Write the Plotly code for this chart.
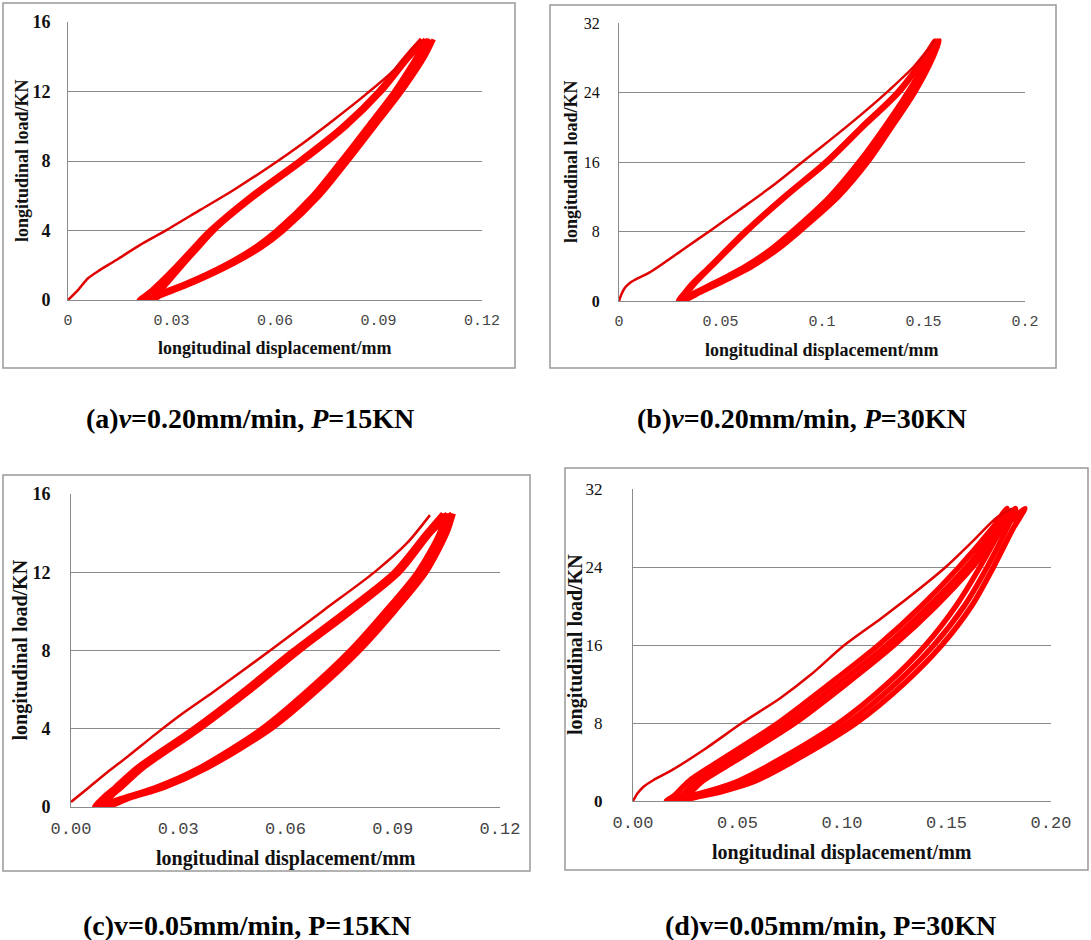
import plotly.graph_objects as go

W, H = 1091, 940

# ---------------- data ----------------
# (a) v=0.20 mm/min, P=15 kN
a_load_x = [0, 0.0029, 0.0058, 0.0092, 0.0140, 0.0208, 0.0285, 0.0382, 0.0479, 0.0576, 0.0673, 0.0769, 0.0866, 0.0944, 0.1002, 0.1023]
a_load_y = [0, 0.57, 1.25, 1.72, 2.30, 3.16, 4.02, 5.17, 6.32, 7.57, 8.91, 10.35, 11.88, 13.22, 14.56, 14.98]
a_cyc1_x = [0.1040, 0.1010, 0.0945, 0.0868, 0.0790, 0.0708, 0.0604, 0.0538, 0.0452, 0.0345, 0.0280, 0.0235, 0.0205,
            0.0238, 0.0265, 0.0315, 0.0362, 0.0410, 0.0530, 0.0668, 0.0795, 0.0898, 0.0980, 0.1025]
a_cyc1_y = [15.0, 14.0, 12.0, 10.0, 8.0, 6.0, 4.0, 3.0, 2.0, 1.0, 0.5, 0.2, 0.0,
            0.5, 1.0, 2.0, 3.0, 4.0, 6.0, 8.0, 10.0, 12.0, 14.0, 15.0]
a_cyc2_x = [0.1050, 0.1022, 0.0956, 0.0879, 0.0801, 0.0719, 0.0615, 0.0549, 0.0462, 0.0355, 0.0291, 0.0250, 0.0228,
            0.0253, 0.0278, 0.0324, 0.0370, 0.0417, 0.0538, 0.0676, 0.0802, 0.0904, 0.0986, 0.1035]
a_cyc2_y = [15.0, 14.0, 12.0, 10.0, 8.0, 6.0, 4.0, 3.0, 2.0, 1.0, 0.5, 0.2, 0.0,
            0.5, 1.0, 2.0, 3.0, 4.0, 6.0, 8.0, 10.0, 12.0, 14.0, 15.0]
a_cyc3_x = [0.1060, 0.1035, 0.0968, 0.0890, 0.0812, 0.0730, 0.0626, 0.0560, 0.0472, 0.0365, 0.0302, 0.0265, 0.0250,
            0.0268, 0.0290, 0.0333, 0.0378, 0.0424, 0.0545, 0.0683, 0.0808, 0.0910, 0.0992, 0.1045]
a_cyc3_y = [15.0, 14.0, 12.0, 10.0, 8.0, 6.0, 4.0, 3.0, 2.0, 1.0, 0.5, 0.2, 0.0,
            0.5, 1.0, 2.0, 3.0, 4.0, 6.0, 8.0, 10.0, 12.0, 14.0, 15.0]

# (b) v=0.20 mm/min, P=30 kN
b_load_x = [0, 0.0012, 0.0029, 0.0055, 0.0089, 0.0149, 0.0321, 0.0458, 0.0596, 0.0750, 0.0905, 0.1059, 0.1197, 0.1334, 0.1454, 0.1557]
b_load_y = [0, 0.77, 1.53, 2.11, 2.57, 3.26, 6.02, 8.24, 10.54, 13.14, 16.02, 18.89, 21.54, 24.34, 27.02, 30.0]
b_cyc1_x = [0.1555, 0.1520, 0.1420, 0.1305, 0.1180, 0.1035, 0.0850, 0.0748, 0.0620, 0.0542, 0.0458, 0.0372, 0.0290,
            0.0322, 0.0358, 0.0445, 0.0618, 0.0810, 0.1015, 0.1190, 0.1368, 0.1500, 0.1555]
b_cyc1_y = [30, 28, 24, 20, 16, 12, 8, 6, 4, 3, 2, 1, 0,
            1, 2, 4, 8, 12, 16, 20, 24, 28, 30]
b_cyc2_x = [0.1568, 0.1534, 0.1439, 0.1325, 0.1204, 0.1059, 0.0871, 0.0768, 0.0640, 0.0561, 0.0476, 0.0388, 0.0302,
            0.0332, 0.0367, 0.0452, 0.0625, 0.0817, 0.1022, 0.1197, 0.1375, 0.1506, 0.1568]
b_cyc2_y = [30, 28, 24, 20, 16, 12, 8, 6, 4, 3, 2, 1, 0,
            1, 2, 4, 8, 12, 16, 20, 24, 28, 30]
b_cyc3_x = [0.1580, 0.1548, 0.1458, 0.1345, 0.1228, 0.1083, 0.0892, 0.0788, 0.0660, 0.0580, 0.0494, 0.0405, 0.0315,
            0.0342, 0.0376, 0.0460, 0.0632, 0.0824, 0.1030, 0.1204, 0.1382, 0.1512, 0.1580]
b_cyc3_y = [30, 28, 24, 20, 16, 12, 8, 6, 4, 3, 2, 1, 0,
            1, 2, 4, 8, 12, 16, 20, 24, 28, 30]

# (c) v=0.05 mm/min, P=15 kN
c_load_x = [0, 0.0050, 0.0100, 0.0160, 0.0235, 0.0310, 0.0400, 0.0557, 0.0706, 0.0850, 0.0939, 0.1004]
c_load_y = [0.26, 1.0, 1.75, 2.6, 3.7, 4.75, 5.9, 8.0, 10.05, 12.02, 13.47, 14.92]
c_cyc1_x = [0.1045, 0.1030, 0.0968, 0.0878, 0.0780, 0.0664, 0.0533, 0.0358, 0.0235, 0.0140, 0.0065,
            0.0090, 0.0122, 0.0183, 0.0342, 0.0486, 0.0621, 0.0766, 0.0903, 0.0993, 0.1040]
c_cyc1_y = [15, 14, 12, 10, 8, 6, 4, 2, 1, 0.45, 0,
            0.5, 1, 2, 4, 6, 8, 10, 12, 14, 15]
c_cyc2_x = [0.1058, 0.1041, 0.0981, 0.0892, 0.0794, 0.0678, 0.0547, 0.0370, 0.0248, 0.0152, 0.0082,
            0.0101, 0.0132, 0.0193, 0.0352, 0.0496, 0.0631, 0.0776, 0.0912, 0.1000, 0.1052]
c_cyc2_y = [15, 14, 12, 10, 8, 6, 4, 2, 1, 0.45, 0,
            0.5, 1, 2, 4, 6, 8, 10, 12, 14, 15]
c_cyc3_x = [0.1070, 0.1052, 0.0994, 0.0906, 0.0808, 0.0692, 0.0561, 0.0382, 0.0262, 0.0165, 0.0098,
            0.0112, 0.0142, 0.0203, 0.0362, 0.0506, 0.0641, 0.0786, 0.0920, 0.1007, 0.1065]
c_cyc3_y = [15, 14, 12, 10, 8, 6, 4, 2, 1, 0.45, 0,
            0.5, 1, 2, 4, 6, 8, 10, 12, 14, 15]

# (d) v=0.05 mm/min, P=30 kN
d_load_x = [0, 0.0021, 0.0049, 0.0097, 0.0186, 0.0348, 0.0526, 0.0704, 0.0850, 0.1012, 0.1190, 0.1336, 0.1498, 0.1627, 0.1741, 0.1814]
d_load_y = [0, 0.76, 1.44, 2.13, 3.16, 5.39, 8.07, 10.54, 12.94, 16.0, 18.78, 21.18, 24.03, 26.68, 29.08, 30.0]
d_cyc1_x = [0.1790, 0.1760, 0.1660, 0.1545, 0.1400, 0.1215, 0.0985, 0.0680, 0.0500, 0.0360, 0.0250, 0.0160,
            0.0200, 0.0265, 0.0405, 0.0695, 0.0940, 0.1175, 0.1380, 0.1560, 0.1720, 0.1790]
d_cyc1_y = [30, 28, 24, 20, 16, 12, 8, 4, 2, 1, 0.4, 0,
            0.6, 2, 4, 8, 12, 16, 20, 24, 28, 30]
d_cyc2_x = [0.1830, 0.1790, 0.1695, 0.1585, 0.1440, 0.1255, 0.1028, 0.0721, 0.0543, 0.0397, 0.0280, 0.0190,
            0.0235, 0.0300, 0.0445, 0.0737, 0.0980, 0.1215, 0.1417, 0.1595, 0.1749, 0.1830]
d_cyc2_y = [30, 28, 24, 20, 16, 12, 8, 4, 2, 1, 0.4, 0,
            0.6, 2, 4, 8, 12, 16, 20, 24, 28, 30]
d_cyc3_x = [0.1875, 0.1820, 0.1725, 0.1620, 0.1478, 0.1295, 0.1068, 0.0760, 0.0580, 0.0430, 0.0305, 0.0215,
            0.0262, 0.0330, 0.0480, 0.0775, 0.1020, 0.1250, 0.1450, 0.1625, 0.1775, 0.1875]
d_cyc3_y = [30, 28, 24, 20, 16, 12, 8, 4, 2, 1, 0.4, 0,
            0.6, 2, 4, 8, 12, 16, 20, 24, 28, 30]

# axis ticks
a_xticks = [0, 0.03, 0.06, 0.09, 0.12]
a_xtext = ["0", "0.03", "0.06", "0.09", "0.12"]
b_xticks = [0, 0.05, 0.1, 0.15, 0.2]
b_xtext = ["0", "0.05", "0.1", "0.15", "0.2"]
c_xticks = [0, 0.03, 0.06, 0.09, 0.12]
c_xtext = ["0.00", "0.03", "0.06", "0.09", "0.12"]
d_xticks = [0, 0.05, 0.1, 0.15, 0.2]
d_xtext = ["0.00", "0.05", "0.10", "0.15", "0.20"]
y15_ticks = [0, 4, 8, 12, 16]
y30_ticks = [0, 8, 16, 24, 32]

captions = [
    "(a)<i>v</i>=0.20mm/min, <i>P</i>=15KN",
    "(b)<i>v</i>=0.20mm/min, <i>P</i>=30KN",
    "(c)v=0.05mm/min, P=15KN",
    "(d)v=0.05mm/min, P=30KN",
]
x_title = "longitudinal displacement/mm"
y_title = "longitudinal load/KN"

# ---------------- layout (pixel geometry) ----------------
def fx(p):
    return p / W

def fy(p):
    return 1 - p / H

panels = [
    dict(load=(a_load_x, a_load_y), cycles=[(a_cyc1_x, a_cyc1_y), (a_cyc2_x, a_cyc2_y), (a_cyc3_x, a_cyc3_y)], cw=4.5,
         xr=[0, 0.12], yr=[0, 16], xt=a_xticks, xtt=a_xtext, yt=y15_ticks, ytt=[str(v) for v in y15_ticks],
         plot=(68, 482, 22, 300), box=(3, 515, 3, 368), ybold=True, tick_fs=15, ytick_fs=18, title_fs=18,
         ylab_gap=13, xtitle_y=348, ytitle_x=22, cap=(250, 418)),
    dict(load=(b_load_x, b_load_y), cycles=[(b_cyc1_x, b_cyc1_y), (b_cyc2_x, b_cyc2_y), (b_cyc3_x, b_cyc3_y)], cw=4.5,
         xr=[0, 0.2], yr=[0, 32], xt=b_xticks, xtt=b_xtext, yt=y30_ticks,
         ytt=["<b>0</b>", "8", "16", "24", "32"],
         plot=(619, 1025, 23, 301), box=(550, 1056, 5, 368), ybold=False, tick_fs=15, ytick_fs=16, title_fs=18,
         ylab_gap=15, xtitle_y=350, ytitle_x=571, cap=(802, 418)),
    dict(load=(c_load_x, c_load_y), cycles=[(c_cyc1_x, c_cyc1_y), (c_cyc2_x, c_cyc2_y), (c_cyc3_x, c_cyc3_y)], cw=4.8,
         xr=[0, 0.12], yr=[0, 16], xt=c_xticks, xtt=c_xtext, yt=y15_ticks, ytt=[str(v) for v in y15_ticks],
         plot=(71, 500, 494, 807), box=(3, 530, 475, 871), ybold=True, tick_fs=17, ytick_fs=18, title_fs=20,
         ylab_gap=16, xtitle_y=858, ytitle_x=20, cap=(247, 925)),
    dict(load=(d_load_x, d_load_y), cycles=[(d_cyc1_x, d_cyc1_y), (d_cyc2_x, d_cyc2_y), (d_cyc3_x, d_cyc3_y)], cw=5.5,
         xr=[0, 0.2], yr=[0, 32], xt=d_xticks, xtt=d_xtext, yt=y30_ticks,
         ytt=["<b>0</b>", "8", "16", "24", "32"],
         plot=(633, 1051, 489, 801), box=(565, 1088, 468, 870), ybold=False, tick_fs=17, ytick_fs=17, title_fs=20,
         ylab_gap=26, xtitle_y=852, ytitle_x=575, cap=(830, 925)),
]

GRID = "#8a8a8a"
BOX = "#999999"
RED = "#ff0000"
RED_LOAD = "#e00000"

fig = go.Figure()
layout = dict(width=W, height=H, margin=dict(l=0, r=0, t=0, b=0, autoexpand=False),
              template="none",
              paper_bgcolor="white", plot_bgcolor="white", showlegend=False)
shapes, annotations = [], []

for i, p in enumerate(panels):
    n = i + 1
    xa = "x" if n == 1 else f"x{n}"
    ya = "y" if n == 1 else f"y{n}"
    xkey = "xaxis" if n == 1 else f"xaxis{n}"
    ykey = "yaxis" if n == 1 else f"yaxis{n}"
    for cx, cy in p["cycles"]:
        fig.add_trace(go.Scatter(x=cx, y=cy, mode="lines", xaxis=xa, yaxis=ya,
                                 line=dict(color=RED, width=p["cw"], shape="spline", smoothing=0.8),
                                 hoverinfo="skip"))
    lx, ly = p["load"]
    fig.add_trace(go.Scatter(x=lx, y=ly, mode="lines", xaxis=xa, yaxis=ya,
                             line=dict(color=RED_LOAD, width=2.5, shape="spline", smoothing=0.8),
                             hoverinfo="skip"))
    x0, x1, y0, y1 = p["plot"]
    layout[xkey] = dict(domain=[fx(x0), fx(x1)], range=p["xr"], anchor=ya, automargin=False,
                        tickvals=p["xt"], ticktext=p["xtt"], showgrid=False, zeroline=False,
                        showline=True, linecolor=GRID, linewidth=1, ticks="",
                        ticklabelstandoff=6,
                        tickfont=dict(family="Liberation Mono", size=p["tick_fs"], color="#444444"))
    layout[ykey] = dict(domain=[fy(y1), fy(y0)], range=p["yr"], anchor=xa, automargin=False,
                        tickvals=p["yt"], ticktext=p["ytt"], showgrid=True, gridcolor=GRID, gridwidth=1,
                        zeroline=False, showline=True, linecolor=GRID, linewidth=1, ticks="",
                        ticklabelstandoff=p["ylab_gap"],
                        tickfont=dict(family="Liberation Serif", size=p["ytick_fs"], color="#111111",
                                      weight="bold" if p["ybold"] else "normal"))
    bx0, bx1, by0, by1 = p["box"]
    shapes.append(dict(type="rect", xref="paper", yref="paper", x0=fx(bx0), x1=fx(bx1),
                       y0=fy(by1), y1=fy(by0), line=dict(color=BOX, width=1.5), layer="below"))
    annotations.append(dict(text=x_title, xref="paper", yref="paper", x=fx((x0 + x1) / 2), y=fy(p["xtitle_y"]),
                            xanchor="center", yanchor="middle", showarrow=False,
                            font=dict(family="Liberation Serif", size=p["title_fs"], color="#111111", weight="bold")))
    annotations.append(dict(text=y_title, xref="paper", yref="paper", x=fx(p["ytitle_x"]), y=fy((y0 + y1) / 2),
                            xanchor="center", yanchor="middle", textangle=-90, showarrow=False,
                            font=dict(family="Liberation Serif", size=p["title_fs"], color="#111111", weight="bold")))
    cxp, cyp = p["cap"]
    annotations.append(dict(text=captions[i], xref="paper", yref="paper", x=fx(cxp), y=fy(cyp),
                            xanchor="center", yanchor="middle", showarrow=False,
                            font=dict(family="Liberation Serif", size=28, color="#000000", weight="bold")))

layout["shapes"] = shapes
layout["annotations"] = annotations
fig.update_layout(**layout)
fig.write_html("out.html", config={"displayModeBar": False},
               post_script="document.body.style.margin='0px';document.body.style.padding='0px';")
